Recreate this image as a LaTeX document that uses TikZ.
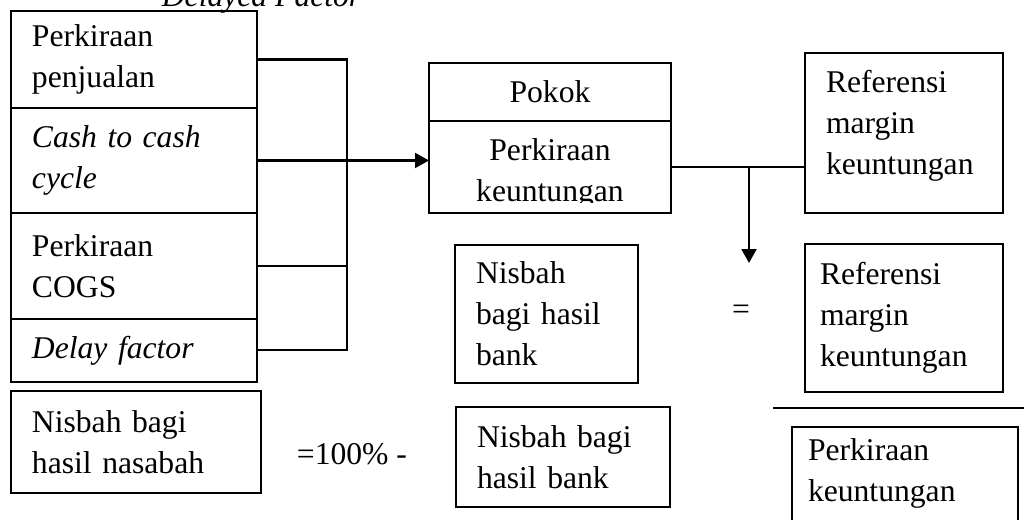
\documentclass[tikz,border=0pt]{standalone}
\usepackage{fontspec}
\setmainfont{Liberation Serif}
\usetikzlibrary{positioning,arrows.meta}
\newcommand{\diagfont}{\fontsize{18}{23.3}\selectfont}

\begin{document}
\begin{tikzpicture}[
  x = 0.02cm, y = -0.02cm,
  line width = 1.2pt,
  cell/.style = {draw, anchor = north west, outer sep = 0pt,
    inner xsep = 0.42cm, inner ysep = 0pt, font = \diagfont},
  feed/.style = {-{Triangle[length = 0.28cm, width = 0.3cm]}}
]

\useasboundingbox (0,0) rectangle (1024,520);

% heading line, cut by the page edge
\node[anchor = base west, font = \diagfont] (dot) at (98,7) {\textbullet};
\node[anchor = base west, font = \diagfont\itshape] (title) at (155,7) {Delayed Factor};

% the four inputs
\node[cell, text width = 4.08cm, minimum height = 1.94cm] (jual) at (11,11) {Perkiraan\\penjualan};
\node[cell, text width = 4.08cm, minimum height = 2.10cm, below = 0pt of jual] (cash) {\itshape Cash to cash\\cycle};
\node[cell, text width = 4.08cm, minimum height = 2.12cm, below = 0pt of cash] (cogs) {Perkiraan\\COGS};
\node[cell, text width = 4.08cm, minimum height = 1.26cm, below = 0pt of cogs] (delay) {\itshape Delay factor};

\coordinate (bus) at (347,0);
\draw (jual.east) -- (jual.east -| bus) -- (delay.east -| bus) -- (delay.east);
\draw (cogs.east) -- (cogs.east -| bus);

% Pokok
\node[cell, align = center, text width = 4.0cm, minimum height = 1.16cm] (pokok) at (429,63) {Pokok};
\begin{scope}
  \clip (400,0) rectangle (700,203);
  \node[cell, align = center, text width = 4.0cm, minimum height = 1.84cm,
    text depth = 0.71cm, below = 0pt of pokok] (untung) {Perkiraan\\keuntungan};
\end{scope}
\draw (untung.south west) rectangle (untung.north east);

\draw[feed] (cash.east) -- (cash.east -| untung.west);

% margin side
\node[cell, text width = 3.12cm, minimum height = 3.2cm, text depth = 2.07cm] (ref1) at (805,53) {Referensi\\margin\\keuntungan};
\draw (untung.east) -- (untung.east -| ref1.west);
\coordinate (drop) at (749,263);
\draw[feed] (untung.east -| drop) -- (drop);

\node[cell, text width = 2.82cm, minimum height = 2.76cm] (bagi) at (455,245) {Nisbah\\bagi hasil\\bank};
\node[font = \diagfont] (eq) at (741,312) {=};
\node[cell, inner xsep = 0.3cm, text width = 3.36cm, minimum height = 2.96cm] (ref2) at (805,244) {Referensi\\margin\\keuntungan};

% fraction bar
\draw (773,408) -- (1024,408);
\node[cell, inner xsep = 0.32cm, inner ysep = 0.23cm, text width = 3.88cm, text depth = 2cm] (keu) at (792,427) {Perkiraan\\keuntungan};

% bottom row
\node[cell, text width = 4.16cm, minimum height = 2.04cm] (nasabah) at (11,391) {Nisbah bagi\\hasil nasabah};
\node[anchor = base west, font = \diagfont] (sisa) at (290,464) {=100\% -};
\node[cell, text width = 3.44cm, minimum height = 2.0cm] (bank) at (456,407) {Nisbah bagi\\hasil bank};

\end{tikzpicture}
\end{document}
